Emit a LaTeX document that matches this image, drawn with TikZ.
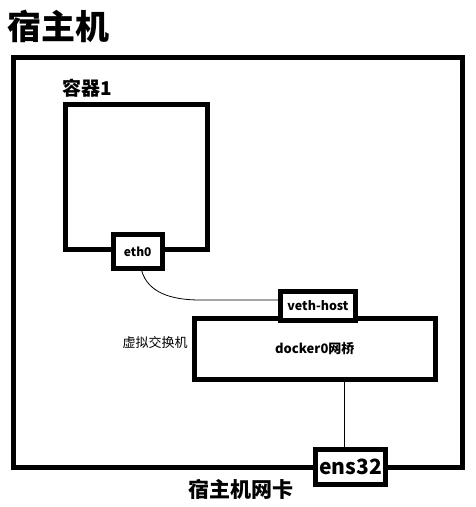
\documentclass[tikz,border=0pt]{standalone}
\usepackage{fontspec}
\setmainfont{Noto Sans CJK SC}
\begin{document}
\begin{tikzpicture}[x=1pt,y=-1pt,line join=miter,font=\bfseries,
    box/.style={draw,line width=5pt,minimum width=#1,inner sep=0pt},
    port/.style={draw,fill=white,line width=5pt,inner sep=0pt,minimum width=#1},
    link/.style={line width=.8pt}]
                \useasboundingbox (0,0) rectangle (475,507);
                \node[box=449pt,minimum height=409.5pt] (host) at (238,262.25) {};
                \node[box=142.5pt,minimum height=145pt] (ctr) at (136.25,177) {};
                \node[box=240.5pt,minimum height=60.5pt,font=\bfseries\fontsize{13}{15}\selectfont] (docker0) at (314.75,348.75) {\raisebox{-4pt}{docker0网桥}};
                \node[port=48.5pt,minimum height=34pt,font=\bfseries\fontsize{12}{14}\selectfont] (eth0) at (137.75,251.5) {eth0};
                \node[port=75pt,minimum height=29pt,font=\bfseries\fontsize{12.5}{14}\selectfont] (vethhost) at (318,306) {veth-host};
                \node[port=70pt,minimum height=35pt,font=\bfseries\fontsize{21}{24}\selectfont] (ens32) at (350.5,467) {ens32};
                \node[anchor=west,font=\bfseries\fontsize{34}{38}\selectfont] (title) at (4,26) {宿主机};
                \node[font=\bfseries\fontsize{19}{22}\selectfont] (ctrlabel) at (87,88) {容器1};
                \node[font=\fontsize{13}{15}\selectfont] (swlabel) at (155,343) {虚拟交换机};
                \node[font=\bfseries\fontsize{21}{24}\selectfont] (niclabel) at (241,489) {宿主机网卡};
                \draw[link] ([xshift=4pt]eth0.south) .. controls (148,292) and (170,300) .. (200,300) -- ([yshift=6pt]vethhost.west);
                \draw[link] ([xshift=-6pt]ens32.north) -- ([xshift=-6pt]ens32.north |- docker0.south);
            \end{tikzpicture}
\end{document}
